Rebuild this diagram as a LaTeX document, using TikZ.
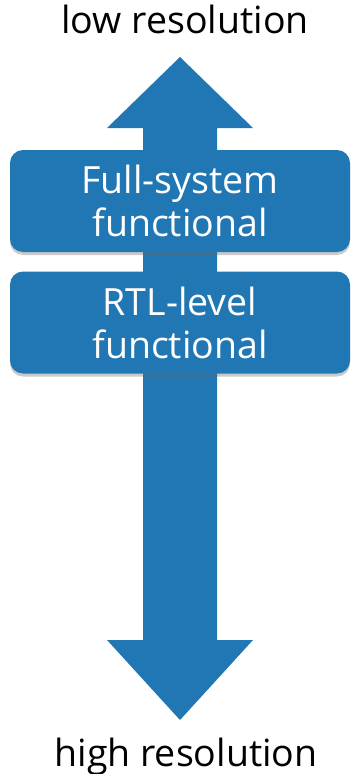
\documentclass[tikz,border=0pt]{standalone}
\usepackage{fontspec}
\setmainfont{Open Sans}
\usetikzlibrary{shadows}
\definecolor{mblue}{HTML}{2177B3}
\tikzset{
  levelbox/.style={fill=mblue, rounded corners=13pt, minimum width=340pt, minimum height=102pt,
    text=white, align=center, font=\fontsize{37.5}{43}\selectfont, inner sep=0pt,
    drop shadow={shadow xshift=0pt, shadow yshift=-3pt, opacity=0.35, fill=black!60}},
  endlabel/.style={font=\fontsize{37.5}{43}\selectfont, text=black, anchor=base, inner sep=0pt}
}
\begin{document}
\begin{tikzpicture}[x=1pt,y=-1pt]
\useasboundingbox (0,0) rectangle (352,774);
\fill[mblue] (180,57) -- (253,128) -- (217,128) -- (217,640) -- (253,640) -- (180,720)
  -- (107,640) -- (143,640) -- (143,128) -- (107,128) -- cycle;
\node[levelbox] (full) at (180,201) {Full-system\\functional};
\node[levelbox] (rtl) at (180,322.5) {RTL-level\\functional};
\node[endlabel] (low) at (185,33) {low resolution};
\node[endlabel] (high) at (186,766) {high resolution};
\end{tikzpicture}
\end{document}
